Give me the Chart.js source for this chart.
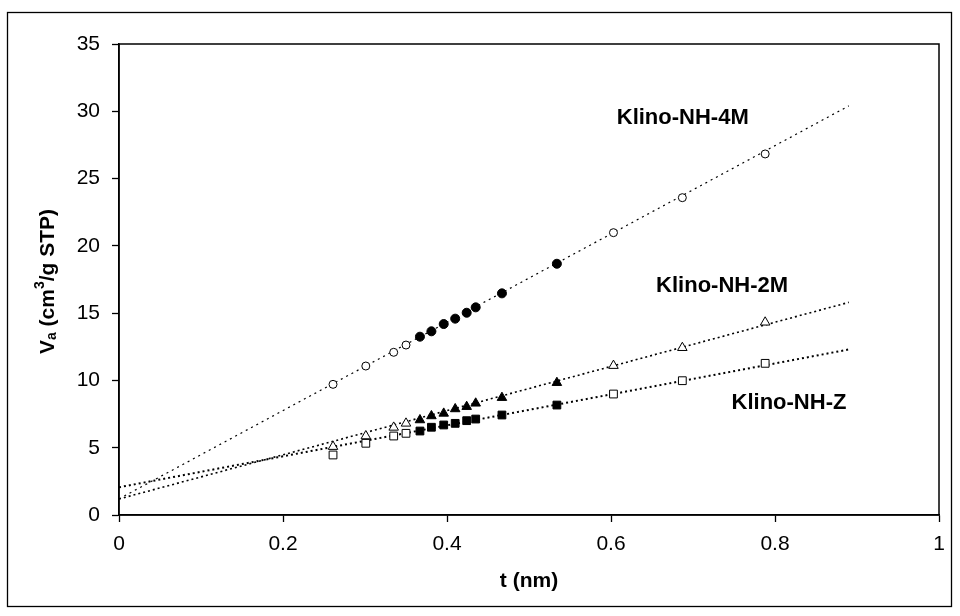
<!DOCTYPE html>
<html>
<head>
<meta charset="utf-8">
<script src="https://cdn.jsdelivr.net/npm/chart.js@4"></script>
<style>
    html, body { margin: 0; padding: 0; background: #fff; }
    #wrap { width: 960px; height: 616px; position: relative; }
</style>
</head>
<body>
<div id="wrap"><canvas id="chart"></canvas></div>
<script>
// t (nm) dla punktów pustych i pełnych
const tOpen = [0.261, 0.301, 0.335, 0.350, 0.603, 0.687, 0.788];
const tFilled = [0.367, 0.381, 0.396, 0.410, 0.424, 0.435, 0.467, 0.534];

// Va (cm3/g STP)
const m4Open = [9.71, 11.07, 12.09, 12.63, 20.98, 23.58, 26.83];
const m4Filled = [13.25, 13.65, 14.19, 14.59, 15.03, 15.43, 16.47, 18.67];
const m2Open = [5.08, 5.87, 6.51, 6.81, 11.10, 12.43, 14.32];
const m2Filled = [7.06, 7.36, 7.55, 7.88, 8.05, 8.30, 8.72, 9.83];
const zOpen = [4.46, 5.33, 5.87, 6.07, 8.99, 9.98, 11.27];
const zFilled = [6.24, 6.52, 6.69, 6.81, 7.01, 7.13, 7.43, 8.17];

// linie trendu (odczytane końce)
const trendT = [0, 0.89];
const trend4M = [1.20, 30.40];
const trend2M = [1.19, 15.80];
const trendZ = [2.06, 12.30];

const seriesNames = ["Klino-NH-4M", "Klino-NH-2M", "Klino-NH-Z"];
const xTicks = [0, 0.2, 0.4, 0.6, 0.8, 1];
const yTicks = [0, 5, 10, 15, 20, 25, 30, 35];

const FONT = "'Liberation Sans', Arial, sans-serif";

function pts(xs, ys) {
    return xs.map((x, i) => ({ x: x, y: ys[i] }));
}

function markers(xs, ys, style, filled, radius) {
    return {
        type: "scatter",
        data: pts(xs, ys),
        pointStyle: style,
        pointRadius: radius,
        pointHoverRadius: radius,
        pointBackgroundColor: filled ? "#000" : "#fff",
        pointBorderColor: "#000",
        pointBorderWidth: 1,
        showLine: false,
        order: 1
    };
}

function trend(ys, width, dash) {
    return {
        type: "line",
        data: pts(trendT, ys),
        borderColor: "#000",
        borderWidth: width,
        borderDash: dash,
        pointRadius: 0,
        fill: false,
        order: 2
    };
}

// ramka, etykiety serii i tytuły osi
const decorPlugin = {
    id: "decor",
    beforeDraw(chart) {
        const ctx = chart.ctx;
        ctx.save();
        ctx.fillStyle = "#fff";
        ctx.fillRect(0, 0, chart.width, chart.height);
        ctx.restore();
    },
    afterDraw(chart) {
        const ctx = chart.ctx;
        const a = chart.chartArea;
        const xs = chart.scales.x, ys = chart.scales.y;
        ctx.save();

        ctx.strokeStyle = "#000";
        ctx.lineWidth = 1.3;
        ctx.strokeRect(7.5, 12.5, 944, 594);
        ctx.lineWidth = 1.5;
        ctx.strokeRect(a.left, a.top, a.right - a.left, a.bottom - a.top);

        ctx.fillStyle = "#000";
        ctx.font = "bold 22px " + FONT;
        ctx.textBaseline = "middle";
        ctx.textAlign = "left";
        const labelPos = [[0.607, 29.5], [0.655, 17.0], [0.747, 8.34]];
        seriesNames.forEach((n, i) => {
            ctx.fillText(n, xs.getPixelForValue(labelPos[i][0]), ys.getPixelForValue(labelPos[i][1]));
        });

        ctx.font = "bold 21px " + FONT;
        ctx.textAlign = "center";
        ctx.fillText("t (nm)", (a.left + a.right) / 2, 581);

        // tytuł osi Y z indeksem dolnym i górnym
        const parts = [
            { t: "V", f: "bold 21px ", dy: 0 },
            { t: "a", f: "bold 14px ", dy: 4 },
            { t: " (cm", f: "bold 21px ", dy: 0 },
            { t: "3", f: "bold 14px ", dy: -8 },
            { t: "/g STP)", f: "bold 21px ", dy: 0 }
        ];
        let total = 0;
        parts.forEach(p => { ctx.font = p.f + FONT; p.w = ctx.measureText(p.t).width; total += p.w; });
        ctx.translate(48, (a.top + a.bottom) / 2 + 2);
        ctx.rotate(-Math.PI / 2);
        ctx.textAlign = "left";
        let x = -total / 2;
        parts.forEach(p => {
            ctx.font = p.f + FONT;
            ctx.fillText(p.t, x, p.dy);
            x += p.w;
        });
        ctx.restore();
    }
};

const ctx = document.getElementById("chart").getContext("2d");

new Chart(ctx, {
    data: {
        datasets: [
            trend(trend4M, 1.2, [2, 4]),
            trend(trend2M, 1.6, [2, 3]),
            trend(trendZ, 2, [2, 3]),
            markers(tOpen, m4Open, "circle", false, 4),
            markers(tFilled, m4Filled, "circle", true, 4.5),
            markers(tOpen, m2Open, "triangle", false, 5.5),
            markers(tFilled, m2Filled, "triangle", true, 5.5),
            markers(tOpen, zOpen, "rect", false, 5.5),
            markers(tFilled, zFilled, "rect", true, 5.5)
        ]
    },
    options: {
        responsive: true,
        maintainAspectRatio: false,
        animation: false,
        layout: { padding: { top: 44, right: 21, left: 0, bottom: 0 } },
        plugins: {
            legend: { display: false },
            tooltip: { enabled: false }
        },
        scales: {
            x: {
                type: "linear",
                min: 0,
                max: 1,
                afterBuildTicks: s => { s.ticks = xTicks.map(v => ({ value: v })); },
                afterFit: s => { s.height = 101; },
                ticks: {
                    color: "#000",
                    font: { family: FONT, size: 21 },
                    padding: 10,
                    maxRotation: 0,
                    callback: v => String(v)
                },
                grid: { drawOnChartArea: false, drawTicks: true, tickLength: 7, tickColor: "#000", tickWidth: 1.3 },
                border: { display: true, color: "#000", width: 1.5 }
            },
            y: {
                type: "linear",
                min: 0,
                max: 35,
                afterBuildTicks: s => { s.ticks = yTicks.map(v => ({ value: v })); },
                afterFit: s => { s.width = 119; },
                ticks: {
                    color: "#000",
                    font: { family: FONT, size: 21 },
                    padding: 12,
                    callback: v => String(v)
                },
                grid: { drawOnChartArea: false, drawTicks: true, tickLength: 7, tickColor: "#000", tickWidth: 1.3 },
                border: { display: true, color: "#000", width: 1.5 }
            }
        }
    },
    plugins: [decorPlugin]
});
</script>
</body>
</html>
